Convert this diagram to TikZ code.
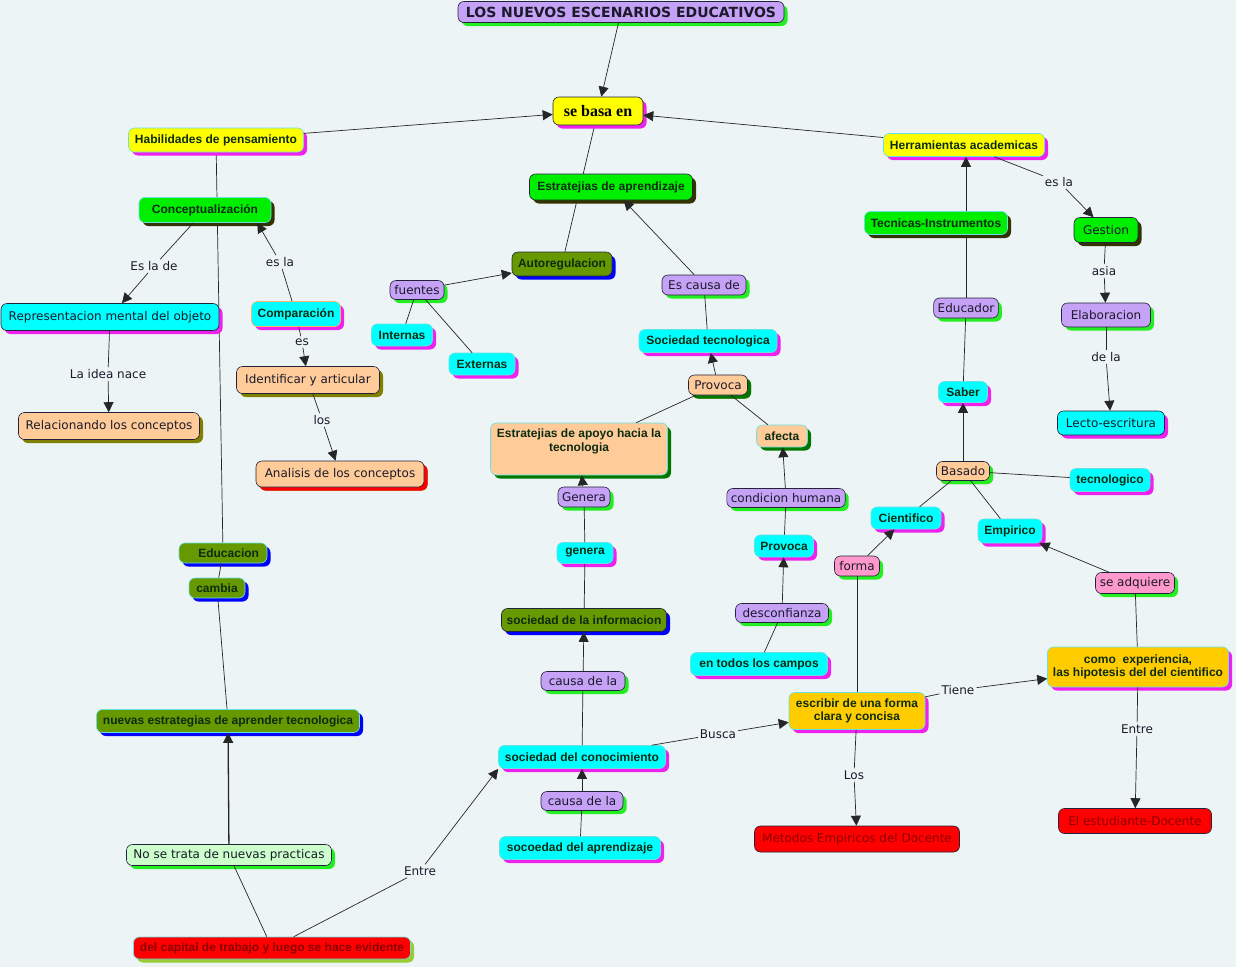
\documentclass[tikz,border=0pt]{standalone}
\usepackage{fontspec}
\setmainfont{DejaVu Sans}
\newfontfamily\arialfont{Liberation Sans}
\newfontfamily\timesfont{Liberation Serif}
\usetikzlibrary{arrows.meta, positioning, shadows}
\definecolor{bgcol}{HTML}{EDF4F6}
\definecolor{lav}{HTML}{C6A2F6}
\definecolor{yel}{HTML}{FFFF00}
\definecolor{grn}{HTML}{00EE00}
\definecolor{cyanfill}{HTML}{00FFFF}
\definecolor{peach}{HTML}{FFCC99}
\definecolor{olv}{HTML}{669900}
\definecolor{pinkfill}{HTML}{FF99CC}
\definecolor{gold}{HTML}{FFCC00}
\definecolor{redfill}{HTML}{FF0000}
\definecolor{pale}{HTML}{CCFFCC}
\definecolor{edgedark}{HTML}{22223A}
\definecolor{edgecyan}{HTML}{66E0E0}
\definecolor{shmag}{HTML}{EE22EE}
\definecolor{shgreen}{HTML}{22EE22}
\definecolor{shdark}{HTML}{333300}
\definecolor{sholive}{HTML}{808000}
\definecolor{shdkgreen}{HTML}{007700}
\definecolor{shblue}{HTML}{0000FF}
\definecolor{shred}{HTML}{FF0000}
\definecolor{shlime}{HTML}{99CC33}
\definecolor{inkdark}{HTML}{0D2B12}
\definecolor{inkplain}{HTML}{1A1A2A}
\definecolor{inkred}{HTML}{8B0000}
\pgfdeclarelayer{back}
\pgfsetlayers{back,main}
\tikzset{
    conc/.style={rectangle, rounded corners=6pt, line width=0.6pt, align=center, inner xsep=4pt, inner ysep=2pt},
    shade/.style={drop shadow={shadow xshift=3.5pt, shadow yshift=-3.5pt, fill=#1, opacity=1}},
    boldtxt/.style={font=\arialfont\bfseries\fontsize{12}{13.5}\selectfont, text=inkdark},
    plaintxt/.style={font=\fontsize{12}{14}\selectfont, text=inkplain},
    lavbox/.style={conc, plaintxt, fill=lav, draw=edgedark, shade=shgreen},
    cyanbox/.style={conc, boldtxt, fill=cyanfill, draw=edgecyan, shade=shmag},
    yelbox/.style={conc, boldtxt, fill=yel, draw=edgecyan, shade=shmag},
    grnbox/.style={conc, boldtxt, fill=grn, draw=edgecyan, shade=shdark},
    olvbox/.style={conc, boldtxt, fill=olv, draw=edgecyan, shade=shblue},
    peachbox/.style={conc, plaintxt, fill=peach, draw=edgedark, shade=sholive},
    pinkbox/.style={conc, plaintxt, fill=pinkfill, draw=edgedark, shade=shgreen},
    goldbox/.style={conc, boldtxt, fill=gold, draw=edgecyan, shade=shmag},
    redbox/.style={conc, plaintxt, fill=redfill, draw=edgedark, text=inkred},
    lnk/.style={plaintxt, inner sep=2pt},
    ln/.style={line width=0.7pt, draw=black!85},
    arr/.style={ln, -{Triangle[length=10pt, width=10pt]}}
}
\begin{document}
\begin{tikzpicture}[x=1pt, y=-1pt]
    \useasboundingbox (0,0) rectangle (1236,967);
    \begin{pgfonlayer}{back}
        \fill[bgcol] (0,0) rectangle (1236,967);
    \end{pgfonlayer}

    % top
    \node[conc, fill=lav, draw=edgedark, shade=shgreen, font=\bfseries\fontsize{14}{16}\selectfont, text=inkplain, minimum width=326pt, minimum height=21pt] (title) at (621,12) {LOS NUEVOS ESCENARIOS EDUCATIVOS};
    \node[conc, fill=yel, draw=edgedark, shade=shmag, font=\timesfont\bfseries\fontsize{16}{18}\selectfont, minimum width=90pt, minimum height=28pt] (sebasa) at (598,111) {se basa en};
    \node[yelbox, minimum width=175pt, minimum height=24pt] (habil) at (216,140) {Habilidades de pensamiento};
    \node[yelbox, minimum width=161pt, minimum height=23pt] (herram) at (964,145) {Herramientas academicas};
    \node[grnbox, draw=edgedark, minimum width=163pt, minimum height=26pt] (estrat) at (611,187) {Estratejias de aprendizaje};

    % left branch
    \node[grnbox, minimum width=132pt, minimum height=25pt] (concep) at (205,210) {Conceptualización};
    \node[cyanbox, plaintxt, draw=edgedark, minimum width=218pt, minimum height=27pt] (repres) at (110,317) {Representacion mental del objeto};
    \node[cyanbox, draw=orange!60, minimum width=89pt, minimum height=25pt] (compar) at (296,314) {Comparación};
    \node[peachbox, minimum width=143pt, minimum height=27pt] (identif) at (308,380) {Identificar y articular};
    \node[peachbox, minimum width=181pt, minimum height=27pt] (relac) at (109,426) {Relacionando los conceptos};
    \node[peachbox, shade=shred, minimum width=168pt, minimum height=26pt] (analisis) at (340,474) {Analisis de los conceptos};
    \node[olvbox, minimum width=88pt, minimum height=20pt, text width=72pt, align=right] (educacion) at (223,553) {Educacion};
    \node[olvbox, minimum width=56pt, minimum height=20pt] (cambia) at (217,588) {cambia};
    \node[olvbox, minimum width=263pt, minimum height=23pt] (nuevas) at (228,721) {nuevas estrategias de aprender tecnologica};
    \node[conc, plaintxt, fill=pale, draw=edgedark, shade=shgreen, minimum width=205pt, minimum height=21pt] (nosetrata) at (229,855) {No se trata de nuevas practicas};
    \node[conc, boldtxt, fill=redfill, draw=edgecyan, shade=shlime, text=inkred, minimum width=277pt, minimum height=22pt] (capital) at (272,948) {del capital de trabajo y luego se hace evidente};

    % middle branch
    \node[olvbox, draw=edgedark, minimum width=100pt, minimum height=24pt] (autoreg) at (562,264) {Autoregulacion};
    \node[lavbox, minimum width=54pt, minimum height=19pt] (fuentes) at (417,290) {fuentes};
    \node[cyanbox, minimum width=61pt, minimum height=22pt] (internas) at (402,335) {Internas};
    \node[cyanbox, minimum width=66pt, minimum height=22pt] (externas) at (482,364) {Externas};
    \node[lavbox, minimum width=84pt, minimum height=20pt] (escausa) at (704,285) {Es causa de};
    \node[cyanbox, minimum width=138pt, minimum height=23pt] (socitec) at (708,341) {Sociedad tecnologica};
    \node[peachbox, shade=shdkgreen, minimum width=59pt, minimum height=20pt] (provoca1) at (718,385) {Provoca};
    \node[conc, boldtxt, fill=peach, draw=edgecyan, shade=shdkgreen, minimum width=51pt, minimum height=22pt] (afecta) at (782,436) {afecta};
    \node[conc, boldtxt, fill=peach, draw=edgecyan, shade=shdkgreen, minimum width=177pt, minimum height=52pt] (estapoyo) at (579,449) {Estratejias de apoyo hacia la\\tecnologia\\\strut};
    \node[lavbox, minimum width=52pt, minimum height=20pt] (genera1) at (584,497) {Genera};
    \node[cyanbox, minimum width=56pt, minimum height=21pt] (genera2) at (585,553) {genera};
    \node[olvbox, draw=edgedark, minimum width=165pt, minimum height=23pt] (socinfo) at (584,620) {sociedad de la informacion};
    \node[lavbox, minimum width=84pt, minimum height=19pt] (causa1) at (583,681) {causa de la};
    \node[cyanbox, minimum width=167pt, minimum height=23pt] (socicono) at (582,757) {sociedad del conocimiento};
    \node[lavbox, minimum width=82pt, minimum height=19pt] (causa2) at (582,801) {causa de la};
    \node[cyanbox, minimum width=161pt, minimum height=23pt] (socaprend) at (580,848) {socoedad del aprendizaje};
    \node[lavbox, minimum width=118pt, minimum height=19pt] (condic) at (786,498) {condicion humana};
    \node[cyanbox, minimum width=59pt, minimum height=22pt] (provoca2) at (784,546) {Provoca};
    \node[lavbox, minimum width=93pt, minimum height=19pt] (desconf) at (782,613) {desconfianza};
    \node[cyanbox, minimum width=137pt, minimum height=23pt] (entodos) at (759,664) {en todos los campos};

    % right branch
    \node[grnbox, minimum width=143pt, minimum height=23pt] (tecnicas) at (936,223) {Tecnicas-Instrumentos};
    \node[grnbox, plaintxt, draw=edgedark, minimum width=64pt, minimum height=25pt] (gestion) at (1106,230) {Gestion};
    \node[lavbox, minimum width=64pt, minimum height=20pt] (educador) at (966,308) {Educador};
    \node[lavbox, minimum width=89pt, minimum height=24pt] (elabor) at (1106,315) {Elaboracion};
    \node[cyanbox, minimum width=49pt, minimum height=21pt] (saber) at (963,392) {Saber};
    \node[cyanbox, plaintxt, draw=edgedark, minimum width=107pt, minimum height=24pt] (lecto) at (1111,423) {Lecto-escritura};
    \node[peachbox, shade=shgreen, minimum width=53pt, minimum height=19pt] (basado) at (963,471) {Basado};
    \node[cyanbox, minimum width=80pt, minimum height=23pt] (tecnolog) at (1110,480) {tecnologico};
    \node[cyanbox, minimum width=70pt, minimum height=22pt] (cientif) at (906,518) {Cientifico};
    \node[cyanbox, minimum width=64pt, minimum height=24pt] (empiric) at (1010,531) {Empirico};
    \node[pinkbox, minimum width=45pt, minimum height=20pt] (forma) at (857,566) {forma};
    \node[pinkbox, minimum width=79pt, minimum height=21pt] (seadq) at (1135,583) {se adquiere};
    \node[goldbox, minimum width=181pt, minimum height=40pt] (como) at (1138,667) {como~ experiencia,\\las hipotesis del del cientifico};
    \node[goldbox, minimum width=136pt, minimum height=37pt] (escribir) at (857,711) {escribir de una forma\\clara y concisa};
    \node[redbox, minimum width=205pt, minimum height=26pt] (metodos) at (857,839) {Metodos Empiricos del Docente};
    \node[redbox, minimum width=153pt, minimum height=25pt] (estudi) at (1135,821) {El estudiante-Docente};

    % linking phrases
    \node[lnk] (lesla1) at (1059,182) {es la};
    \node[lnk] (lasia) at (1104,271) {asia};
    \node[lnk] (ldela) at (1106,357) {de la};
    \node[lnk] (lesla2) at (154,266) {Es la de};
    \node[lnk] (lesla3) at (280,262) {es la};
    \node[lnk] (les) at (302,342) {es};
    \node[lnk] (llos) at (322,420) {los};
    \node[lnk] (lidea) at (108,374) {La idea nace};
    \node[lnk] (lbusca) at (718,734) {Busca};
    \node[lnk] (ltiene) at (958,690) {Tiene};
    \node[lnk] (lLos) at (854,775) {Los};
    \node[lnk] (lentre1) at (1137,729) {Entre};
    \node[lnk] (lentre2) at (420,871) {Entre};

    % links that run behind other concepts
    \begin{pgfonlayer}{back}
        \draw[ln] (sebasa) -- (autoreg);
        \draw[ln] (habil) -- (educacion);
    \end{pgfonlayer}

    \draw[arr] (title) -- (sebasa);
    \draw[arr] (habil) -- (sebasa);
    \draw[arr] (herram) -- (sebasa);
    \draw[arr] (escausa) -- (estrat);
    \draw[ln] (escausa) -- (socitec);
    \draw[arr] (provoca1) -- (socitec);
    \draw[ln] (provoca1) -- (estapoyo);
    \draw[ln] (provoca1) -- (afecta);
    \draw[arr] (condic) -- (afecta);
    \draw[ln] (condic) -- (provoca2);
    \draw[arr] (desconf) -- (provoca2);
    \draw[ln] (desconf) -- (entodos);
    \draw[arr] (genera1) -- (estapoyo);
    \draw[ln] (genera1) -- (genera2);
    \draw[ln] (genera2) -- (socinfo);
    \draw[arr] (causa1) -- (socinfo);
    \draw[ln] (causa1) -- (socicono);
    \draw[arr] (causa2) -- (socicono);
    \draw[ln] (causa2) -- (socaprend);
    \draw[ln] (socicono) -- (lbusca);
    \draw[arr] (lbusca) -- (escribir);
    \draw[arr] (fuentes) -- (autoreg);
    \draw[ln] (fuentes) -- (internas);
    \draw[ln] (fuentes) -- (externas);
    \draw[ln] (concep) -- (lesla2);
    \draw[arr] (lesla2) -- (repres);
    \draw[ln] (compar) -- (lesla3);
    \draw[arr] (lesla3) -- ([xshift=-14pt]concep.south east);
    \draw[ln] (compar) -- (les);
    \draw[arr] (les) -- (identif);
    \draw[ln] (identif) -- (llos);
    \draw[arr] (llos) -- (analisis);
    \draw[ln] (repres) -- (lidea);
    \draw[arr] (lidea) -- (relac);
    \draw[ln] (educacion) -- (cambia);
    \draw[ln] (cambia) -- (nuevas);
    \draw[arr, line width=1.3pt] (nosetrata) -- (nuevas);
    \draw[ln] (capital) -- (nosetrata);
    \draw[ln] (capital) -- (lentre2);
    \draw[arr] (lentre2) -- (socicono.south west);
    \draw[ln] (escribir) -- (ltiene);
    \draw[arr] (ltiene) -- (como);
    \draw[ln] (escribir) -- (lLos);
    \draw[arr] (lLos) -- (metodos);
    \draw[ln] (forma) -- (escribir);
    \draw[arr] (forma) -- (cientif);
    \draw[arr] (seadq) -- (empiric);
    \draw[ln] (seadq) -- (como);
    \draw[ln] (como) -- (lentre1);
    \draw[arr] (lentre1) -- (estudi);
    \draw[ln] (basado) -- (cientif);
    \draw[ln] (basado) -- (empiric);
    \draw[ln] (basado) -- (tecnolog);
    \draw[arr] (basado) -- (saber);
    \draw[ln] (saber) -- (educador);
    \draw[ln] (educador) -- (educador |- tecnicas.south);
    \draw[arr] (educador |- tecnicas.north) -- (educador |- herram.south);
    \draw[ln] (herram) -- (lesla1);
    \draw[arr] (lesla1) -- (gestion);
    \draw[ln] (gestion) -- (lasia);
    \draw[arr] (lasia) -- (elabor);
    \draw[ln] (elabor) -- (ldela);
    \draw[arr] (ldela) -- (lecto);
\end{tikzpicture}
\end{document}
